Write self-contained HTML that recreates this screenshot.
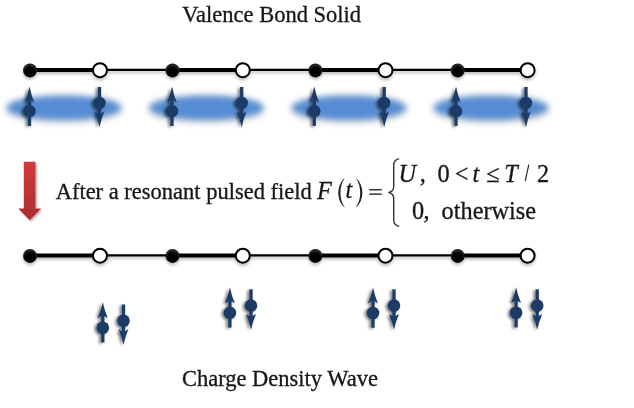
<!DOCTYPE html>
<html><head><meta charset="utf-8">
<style>
html,body{margin:0;padding:0;background:#fff;}
body{width:634px;height:408px;overflow:hidden;position:relative;}
svg{position:absolute;left:0;top:0;}
.t{font-family:"Liberation Serif",serif;fill:#161616;stroke:#161616;stroke-width:0.3px;}
.i{font-style:italic;}
</style></head>
<body>
<svg width="634" height="408" viewBox="0 0 634 408">
<defs>
  <filter id="blur" x="-20%" y="-80%" width="140%" height="260%"><feGaussianBlur stdDeviation="3.4"/></filter>
  <filter id="tb" x="-5%" y="-20%" width="110%" height="140%"><feGaussianBlur stdDeviation="0.35"/></filter>
  <filter id="blur2" x="-20%" y="-80%" width="140%" height="260%"><feGaussianBlur stdDeviation="4"/></filter>
  <filter id="lsh" x="-5%" y="-100%" width="110%" height="300%">
    <feDropShadow dx="0" dy="2.2" stdDeviation="1.4" flood-color="#000" flood-opacity="0.27"/>
  </filter>
  <filter id="ash" x="-100%" y="-30%" width="300%" height="160%">
    <feGaussianBlur in="SourceAlpha" stdDeviation="1.7"/>
    <feOffset dx="-2.5" dy="1.2"/>
    <feComponentTransfer result="sh"><feFuncA type="linear" slope="0.55"/></feComponentTransfer>
    <feGaussianBlur in="SourceGraphic" stdDeviation="0.35" result="sg"/>
    <feMerge><feMergeNode in="sh"/><feMergeNode in="sg"/></feMerge>
  </filter>
  <filter id="rsh" x="-50%" y="-20%" width="200%" height="140%">
    <feDropShadow dx="1.5" dy="1.5" stdDeviation="1.2" flood-color="#000" flood-opacity="0.3"/>
  </filter>
  <radialGradient id="bk" cx="0.5" cy="0.55" r="0.55" fx="0.5" fy="0.9">
    <stop offset="0" stop-color="#000"/><stop offset="0.7" stop-color="#050505"/><stop offset="0.88" stop-color="#2a2a2a"/><stop offset="1" stop-color="#111"/>
  </radialGradient>
  <linearGradient id="red" x1="0" y1="0" x2="0" y2="1">
    <stop offset="0" stop-color="#d23b3b"/><stop offset="1" stop-color="#ab2d2d"/>
  </linearGradient>
  <g id="up">
    <path d="M0,0 Q1.7,8.5 4.8,15.8 L1.65,13.8 L-1.65,13.8 L-4.8,15.8 Q-1.7,8.5 0,0 Z"/>
    <rect x="-1.65" y="12" width="3.3" height="27.3"/>
    <circle cx="0" cy="24.6" r="6.2"/>
  </g>
  <g id="dn">
    <path d="M0,0 Q1.7,8.5 4.8,15.8 L1.65,13.8 L-1.65,13.8 L-4.8,15.8 Q-1.7,8.5 0,0 Z"/>
    <rect x="-1.65" y="12" width="3.3" height="28.2"/>
    <circle cx="0" cy="24.3" r="6.2"/>
  </g>
  <g id="up2">
    <path d="M0,0 Q1.8,8.5 5,15.9 L1.65,13.8 L-1.65,13.8 L-5,15.9 Q-1.8,8.5 0,0 Z"/>
    <rect x="-1.65" y="12" width="3.3" height="28.2"/>
    <circle cx="0" cy="25.5" r="6.3"/>
  </g>
  <g id="dn2">
    <path d="M0,0 Q1.8,8.5 5,15.9 L1.65,13.8 L-1.65,13.8 L-5,15.9 Q-1.8,8.5 0,0 Z"/>
    <rect x="-1.65" y="12" width="3.3" height="28.5"/>
    <circle cx="0" cy="24.2" r="6.3"/>
  </g>
  <g id="chain">
    <g filter="url(#lsh)">
    <line x1="30" y1="0" x2="100" y2="0" stroke="#000" stroke-width="4"/>
    <line x1="100" y1="-0.2" x2="172.5" y2="-0.2" stroke="#000" stroke-width="2.2"/>
    <line x1="172.5" y1="0" x2="242.8" y2="0" stroke="#000" stroke-width="4"/>
    <line x1="242.8" y1="-0.2" x2="315.4" y2="-0.2" stroke="#000" stroke-width="2.2"/>
    <line x1="315.4" y1="0" x2="385.5" y2="0" stroke="#000" stroke-width="4"/>
    <line x1="385.5" y1="-0.2" x2="457.7" y2="-0.2" stroke="#000" stroke-width="2.2"/>
    <line x1="457.7" y1="0" x2="527.6" y2="0" stroke="#000" stroke-width="4"/>
    <circle cx="30" cy="0.4" r="7" fill="url(#bk)"/>
    <circle cx="172.5" cy="0.4" r="7" fill="url(#bk)"/>
    <circle cx="315.4" cy="0.4" r="7" fill="url(#bk)"/>
    <circle cx="457.7" cy="0.4" r="7" fill="url(#bk)"/>
    <circle cx="100" cy="0.2" r="7" fill="#fff" stroke="#000" stroke-width="2"/>
    <circle cx="242.8" cy="0.2" r="7" fill="#fff" stroke="#000" stroke-width="2"/>
    <circle cx="385.5" cy="0.2" r="7" fill="#fff" stroke="#000" stroke-width="2"/>
    <circle cx="527.6" cy="0.2" r="7" fill="#fff" stroke="#000" stroke-width="2"/>
    </g>
  </g>
</defs>

<g filter="url(#tb)"><text class="t" x="182.35" y="21.8" font-size="22.5">Valence Bond Solid</text></g>

<use href="#chain" transform="translate(0,70.0)"/>

<!-- ellipses -->
<g fill="#000" opacity="0.16" filter="url(#blur2)">
  <ellipse cx="64" cy="109.5" rx="58" ry="13"/>
  <ellipse cx="206.5" cy="109.5" rx="58" ry="13"/>
  <ellipse cx="349" cy="109.5" rx="58" ry="13"/>
  <ellipse cx="491" cy="109.5" rx="58" ry="13"/>
</g>
<g fill="#548cd3" filter="url(#blur)">
  <ellipse cx="64" cy="107.8" rx="57" ry="12"/>
  <ellipse cx="206.5" cy="107.8" rx="57" ry="12"/>
  <ellipse cx="349" cy="107.8" rx="57" ry="12"/>
  <ellipse cx="491" cy="107.8" rx="57" ry="12"/>
</g>

<!-- top spins -->
<g fill="#1d3b66" filter="url(#ash)">
  <use href="#up" transform="translate(29.5,86.6)"/>
  <use href="#up" transform="translate(172,86.6)"/>
  <use href="#up" transform="translate(314.3,86.6)"/>
  <use href="#up" transform="translate(456,86.6)"/>
  <use href="#dn" transform="translate(99.5,127.2) rotate(180)"/>
  <use href="#dn" transform="translate(241.7,127.2) rotate(180)"/>
  <use href="#dn" transform="translate(384.2,127.2) rotate(180)"/>
  <use href="#dn" transform="translate(526,127.2) rotate(180)"/>
</g>

<!-- red arrow -->
<polygon filter="url(#rsh)" points="23.8,161.8 35.5,161.8 35.5,208.5 41.2,208.5 29.7,220.3 18.3,208.5 23.8,208.5" fill="url(#red)"/>

<!-- equation -->
<g filter="url(#tb)">
<text class="t" x="55.65" y="198.8" font-size="22.5">After a resonant pulsed field</text>
<text class="t i" x="317.02" y="198.8" font-size="24.3">F</text>
<path d="M344,178.4 C336.3,186 336.3,199.6 344.2,207.2 L344.6,206.9 C339.1,199.6 339.1,186 344.4,178.7 Z" fill="#222"/>
<text class="t i" x="345.5" y="198.3" font-size="24.3">t</text>
<path d="M356.6,178.4 C364.4,186 364.4,199.6 356.4,207.2 L356,206.9 C361.6,199.6 361.6,186 356.2,178.7 Z" fill="#222"/>
<rect x="369.3" y="189" width="12.4" height="1.5" fill="#333"/>
<rect x="369.3" y="193.4" width="12.4" height="1.5" fill="#333"/>
<path d="M399.2,158.6 C395.5,159.5 393.7,161 393.7,165 L393.7,186.5 C393.7,190 391.5,192 388.4,192.5 C391.5,193 393.7,195 393.7,198.5 L393.7,220 C393.7,224 395.5,225.5 399.2,226.4" fill="none" stroke="#333" stroke-width="1.4"/>
<text class="t i" x="398.55" y="181.5" font-size="24.3">U</text>
<text class="t" x="419.73" y="181.5" font-size="24.3">,</text>
<text class="t" x="437.43" y="181.5" font-size="24.3">0</text>
<text class="t" x="454.75" y="181.5" font-size="24.3">&lt;</text>
<text class="t i" x="472.57" y="181.5" font-size="24.3">t</text>
<text class="t" x="486.2" y="181.5" font-size="24.3">≤</text>
<text class="t i" x="504.27" y="181.5" font-size="24.3">T</text>
<path d="M528.8,164.6 L525.2,181.2" stroke="#222" stroke-width="1.1" fill="none"/>
<text class="t" x="537.1" y="181.5" font-size="24.3">2</text>
<text class="t" x="412.12" y="218.9" font-size="24.3">0</text>
<text class="t" x="423.43" y="218.9" font-size="24.3">,</text>
<text class="t" x="441.62" y="218.9" font-size="24.3">otherwise</text>
</g>

<use href="#chain" transform="translate(0,255.5)"/>

<!-- bottom spins -->
<g fill="#1d3b66" filter="url(#ash)">
  <use href="#up2" transform="translate(102.8,302.3)"/>
  <use href="#dn2" transform="translate(123.5,345) rotate(180)"/>
  <use href="#up2" transform="translate(229.9,287.4)"/>
  <use href="#dn2" transform="translate(251,329.8) rotate(180)"/>
  <use href="#up2" transform="translate(373,287.5)"/>
  <use href="#dn2" transform="translate(394,329.8) rotate(180)"/>
  <use href="#up2" transform="translate(516.1,287.2)"/>
  <use href="#dn2" transform="translate(537.2,329.8) rotate(180)"/>
</g>

<g filter="url(#tb)"><text class="t" x="181.9" y="386" font-size="22.5">Charge Density Wave</text></g>
</svg>
</body></html>
